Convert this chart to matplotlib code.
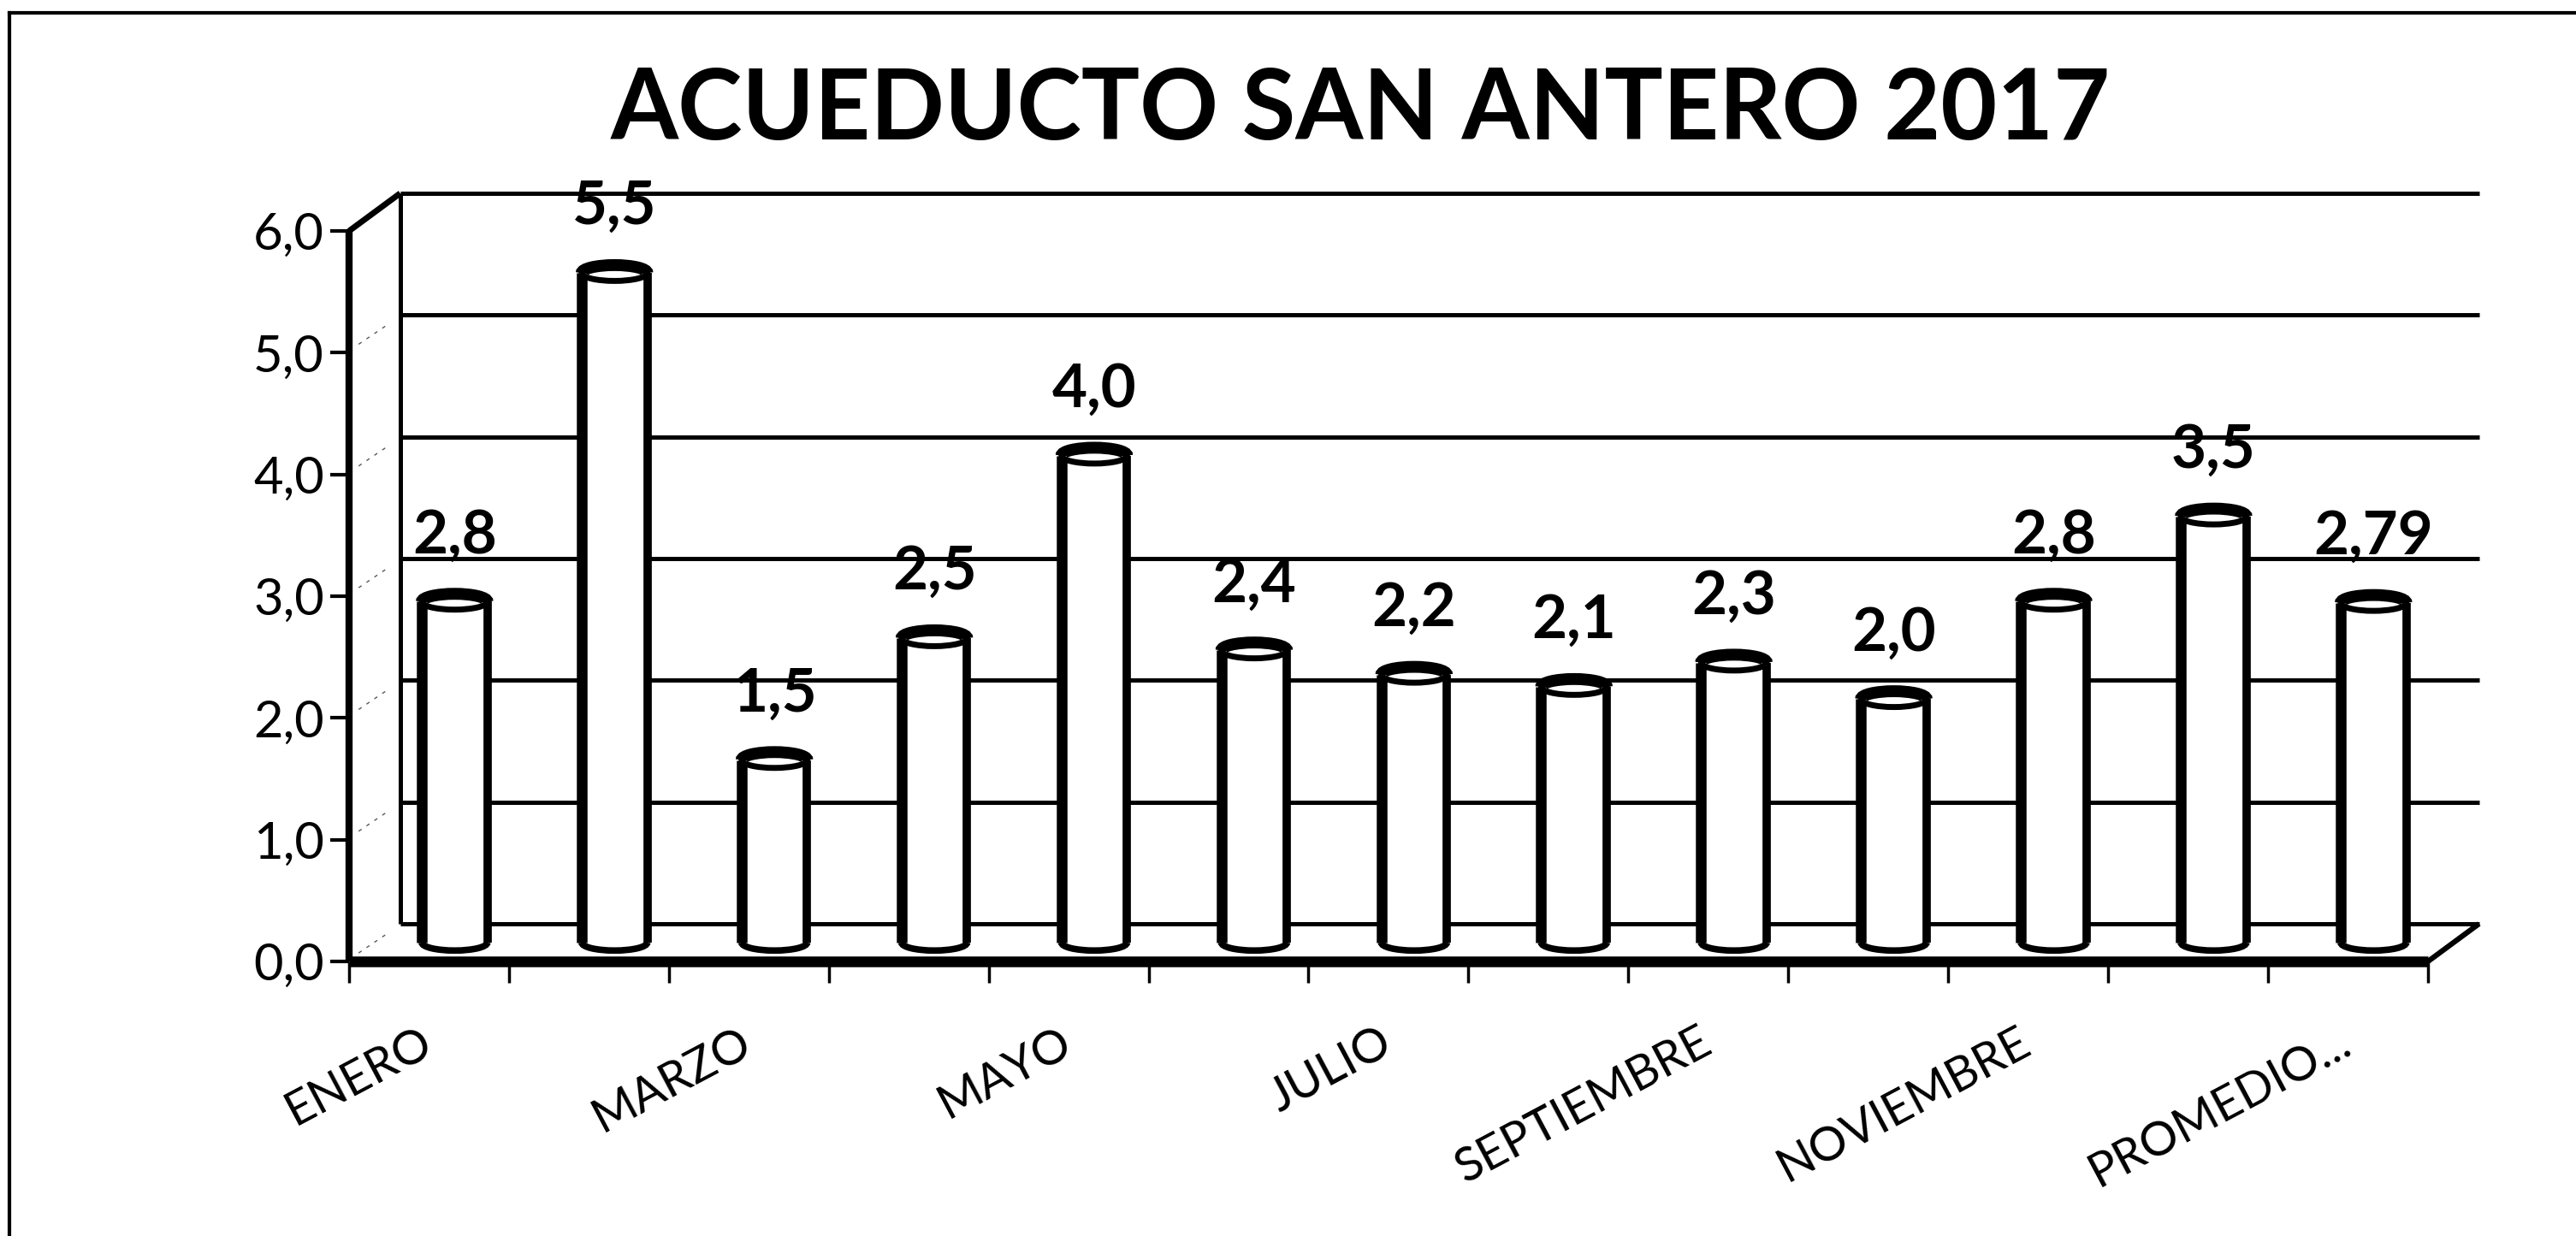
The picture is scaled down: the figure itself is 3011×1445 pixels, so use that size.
"""ACUEDUCTO SAN ANTERO 2017 - columnas cilindricas con efecto 3D."""

import matplotlib

matplotlib.use("Agg")
import matplotlib.pyplot as plt
import numpy as np
from matplotlib.lines import Line2D
from matplotlib.patches import Arc, Ellipse, Rectangle

plt.rcParams["font.family"] = ["Lato", "DejaVu Sans"]

titulo = "ACUEDUCTO SAN ANTERO 2017"
meses = [
    "ENERO", "FEBRERO", "MARZO", "ABRIL", "MAYO", "JUNIO", "JULIO",
    "AGOSTO", "SEPTIEMBRE", "OCTUBRE", "NOVIEMBRE", "DICIEMBRE", "PROMEDIO...",
]
valores = [2.8, 5.5, 1.5, 2.5, 4.0, 2.4, 2.2, 2.1, 2.3, 2.0, 2.8, 3.5, 2.79]
y_ticks = [0, 1, 2, 3, 4, 5, 6]
y_tick_labels = ["0,0", "1,0", "2,0", "3,0", "4,0", "5,0", "6,0"]

# fake depth of the 3D box, in data units (categories, values)
DX = 0.32
DY = 0.31
BAR_W = 0.41
CAP_H = 0.13


def fmt(v):
    s = f"{v:.1f}" if round(v, 1) == v else f"{v:.2f}"
    return s.replace(".", ",")


def main() -> None:
    n = len(meses)
    fig = plt.figure(figsize=(30.11, 14.45), dpi=100)
    ax = fig.add_axes([0.1355, 0.2221, 0.807, 0.591])
    ax.set_xlim(-0.5, n - 0.5)
    ax.set_ylim(0, 6)
    for s in ax.spines.values():
        s.set_visible(False)
    ax.patch.set_visible(False)

    x0, x1 = -0.5, n - 0.5
    k = dict(color="black", clip_on=False, solid_capstyle="butt")

    # back wall
    for t in y_ticks:
        ax.plot([x0 + DX, x1 + DX], [t + DY, t + DY], lw=3.6, zorder=1, **k)
    ax.plot([x0 + DX, x0 + DX], [DY, y_ticks[-1] + DY], lw=3.6, zorder=1, **k)

    # left wall
    ax.plot([x0, x0], [0, y_ticks[-1]], lw=6, zorder=3, **k)
    ax.plot([x0, x0 + DX], [y_ticks[-1], y_ticks[-1] + DY], lw=5, zorder=3, **k)
    for t in y_ticks[:-1]:
        ax.plot([x0 + 0.06, x0 + DX - 0.08], [t + 0.07, t + DY - 0.08], lw=1.0,
                ls=(0, (3, 5)), color="0.35", clip_on=False, zorder=2)

    # floor
    ax.plot([x0, x1], [0, 0], lw=9, zorder=4, **k)
    ax.plot([x1, x1 + DX], [0, DY], lw=4.5, zorder=4, **k)

    # cylinders
    for i, v in enumerate(valores):
        xc = i + DX / 2
        yb = DY / 2
        yt = v + DY / 2
        ax.add_patch(Rectangle((xc - BAR_W / 2, yb), BAR_W, v, fc="white",
                               ec="none", zorder=5))
        ax.add_patch(Ellipse((xc, yb), BAR_W, CAP_H, fc="white", ec="none", zorder=5))
        ax.add_patch(Arc((xc, yb), BAR_W, CAP_H, theta1=180, theta2=360, lw=5.5,
                         color="black", zorder=6))
        ax.plot([xc - BAR_W / 2] * 2, [yb, yt], lw=9, zorder=6, **k)
        ax.plot([xc + BAR_W / 2] * 2, [yb, yt], lw=7, zorder=6, **k)
        ax.add_patch(Ellipse((xc, yt), BAR_W, CAP_H, fc="white", ec="black",
                             lw=5, zorder=7))
        ax.add_patch(Arc((xc, yt), BAR_W, CAP_H, theta1=0, theta2=180, lw=10,
                         color="black", zorder=7))
        ax.text(xc, yt + 0.40, fmt(v), ha="center", va="baseline", fontsize=51,
                fontweight="bold", zorder=8)

    # axes ticks
    ax.set_yticks(y_ticks)
    ax.set_yticklabels(y_tick_labels, fontsize=43)
    ax.tick_params(axis="y", length=16, width=3, pad=5, direction="out")
    ax.set_xticks(np.arange(x0, x1 + 0.01, 1))
    ax.set_xticklabels([])
    ax.tick_params(axis="x", length=18, width=2.5, direction="out")

    for i in range(0, n, 2):
        ax.text(i, -0.64, meses[i], rotation=28, rotation_mode="anchor",
                ha="right", va="center", fontsize=40, clip_on=False)

    fig.text(0.528, 0.887, titulo, ha="center", va="baseline", fontsize=82,
             fontweight="bold")

    # outer frame (top and left only, as in the scan)
    fig.add_artist(Line2D([0.0037, 1.0], [0.9895, 0.9895], color="black", lw=3))
    fig.add_artist(Line2D([0.0037, 0.0037], [0.0, 0.9895], color="black", lw=3))

    fig.savefig("out.png", dpi=100)


if __name__ == "__main__":
    main()
